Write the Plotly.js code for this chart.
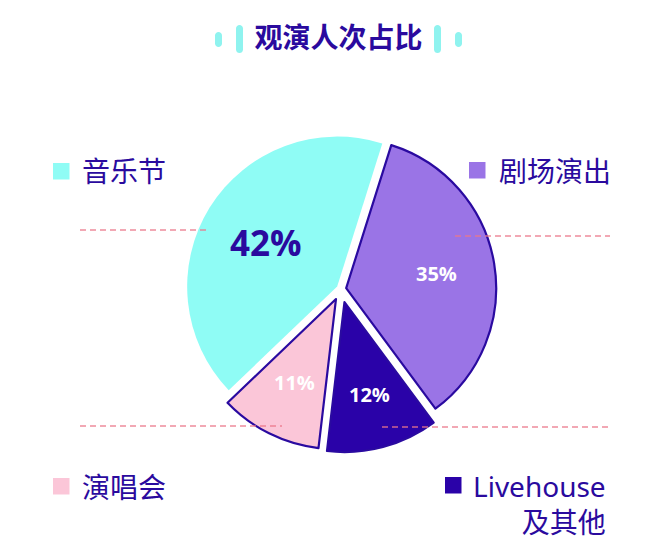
<!DOCTYPE html>
<html>
<head>
<meta charset="utf-8">
<script src="https://cdn.plot.ly/plotly-3.0.1.min.js"></script>
<style>
  html, body { margin: 0; padding: 0; background: #ffffff; }
  #chart { width: 656px; height: 554px; }
</style>
</head>
<body>
<div id="chart"></div>
<script>
// ---- data ----
const categories = ['剧场演出', 'Livehouse及其他', '演唱会', '音乐节'];
const shares = [35, 12, 11, 42];
const legendLabels = ['剧场演出', 'Livehouse<br>及其他', '演唱会', '音乐节'];
const chartTitle = '观演人次占比';

// ---- styles ----
const sliceColors = ['#9a74e6', '#2a02a8', '#fbc6d8', '#8ffcf5'];
const borderColors = ['#2a0aa0', '#2a0aa0', '#2a0aa0', 'rgba(0,0,0,0)'];
const borderWidths = [2.2, 2.2, 2.2, 0];
const pulls = [0.035, 0.09, 0.075, 0.03];
const labelRadius = [0.61, 0.64, 0.62, 0.56];
const labelColors = ['#ffffff', '#ffffff', '#ffffff', '#2a0a9e'];
const labelSizes = [20, 20, 20, 35];
const DARK = '#2a0a9e';
const ROTATION = 17.5;

const W = 656, H = 554;
const px = x => x / W;
const py = y => 1 - y / H;

// pie geometry (pixels)
const CX = 341, CY = 289, R = 150;
const maxPull = Math.max.apply(null, pulls);
const half = R * (1 + maxPull);

const pie = {
  type: 'pie',
  labels: categories,
  values: shares,
  sort: false,
  direction: 'clockwise',
  rotation: ROTATION,
  pull: pulls,
  textinfo: 'none',
  hoverinfo: 'none',
  showlegend: false,
  marker: { colors: sliceColors, line: { color: borderColors, width: borderWidths } },
  domain: { x: [px(CX - half), px(CX + half)], y: [py(CY + half), py(CY - half)] }
};

// percentage labels along each slice's mid angle
const annotations = [];
const total = shares.reduce((a, b) => a + b, 0);
let cum = 0;
shares.forEach((v, i) => {
  const mid = (ROTATION + (cum + v / 2) / total * 360) * Math.PI / 180;
  cum += v;
  const dist = (pulls[i] + labelRadius[i]) * R;
  const x = CX + dist * Math.sin(mid);
  const y = CY - dist * Math.cos(mid);
  annotations.push({
    xref: 'paper', yref: 'paper', x: px(x), y: py(y),
    xanchor: 'center', yanchor: 'middle', showarrow: false,
    text: '<b>' + v + '%</b>',
    font: { family: 'Open Sans, Noto Sans, sans-serif', size: labelSizes[i], color: labelColors[i] }
  });
});

// legend entries at the corners
const legendPos = [
  { sq: [469, 162], tx: 497, ty: 171, anchor: 'left' },
  { sq: [445, 477], tx: 608, ty: 504, anchor: 'right' },
  { sq: [53, 478], tx: 80, ty: 487, anchor: 'left' },
  { sq: [53, 163], tx: 80, ty: 171, anchor: 'left' }
];
const SQ = 16.5;
const shapes = [];
legendPos.forEach((p, i) => {
  shapes.push({
    type: 'rect', xref: 'paper', yref: 'paper',
    x0: px(p.sq[0]), x1: px(p.sq[0] + SQ), y0: py(p.sq[1] + SQ), y1: py(p.sq[1]),
    fillcolor: sliceColors[i], line: { width: 0 }
  });
  annotations.push({
    xref: 'paper', yref: 'paper', x: px(p.tx), y: py(p.ty),
    xanchor: p.anchor, yanchor: 'middle', align: 'right', showarrow: false,
    text: legendLabels[i],
    font: { family: 'Noto Sans, Noto Sans CJK SC, sans-serif', size: 28, color: DARK }
  });
});

// dashed guide lines
const dashLines = [[80, 206, 230], [455, 610, 236], [80, 282, 426], [382, 610, 427]];
dashLines.forEach(l => {
  shapes.push({
    type: 'line', xref: 'paper', yref: 'paper',
    x0: px(l[0]), x1: px(l[1]), y0: py(l[2]), y1: py(l[2]),
    line: { color: 'rgba(234,120,138,0.85)', width: 1.5, dash: '6px,4px' }
  });
});

// title decoration pills
function pill(x0, y0, x1, y1) {
  const r = (x1 - x0) / 2;
  const k = 4 / 3 * r;
  const P = (x, y) => px(x).toFixed(5) + ',' + py(y).toFixed(5);
  return 'M' + P(x0, y0 + r) +
    ' C' + P(x0, y0 + r - k) + ' ' + P(x1, y0 + r - k) + ' ' + P(x1, y0 + r) +
    ' L' + P(x1, y1 - r) +
    ' C' + P(x1, y1 - r + k) + ' ' + P(x0, y1 - r + k) + ' ' + P(x0, y1 - r) + ' Z';
}
[[215, 32, 222, 47], [236, 25, 243, 53], [434, 25, 441, 53], [455, 32, 462, 47]].forEach(b => {
  shapes.push({
    type: 'path', xref: 'paper', yref: 'paper', path: pill(b[0], b[1], b[2], b[3]),
    fillcolor: '#8ff3ef', line: { width: 0 }
  });
});

const layout = {
  width: W, height: H,
  margin: { l: 0, r: 0, t: 0, b: 0 },
  paper_bgcolor: '#ffffff',
  plot_bgcolor: '#ffffff',
  title: {
    text: '<b>' + chartTitle + '</b>',
    x: 338.5 / W, xanchor: 'center', xref: 'container',
    y: 1 - 38 / H, yanchor: 'middle', yref: 'container',
    font: { family: 'Noto Sans CJK SC, sans-serif', size: 28, color: DARK }
  },
  annotations: annotations,
  shapes: shapes
};

Plotly.newPlot('chart', [pie], layout, { displayModeBar: false, staticPlot: true });
</script>
</body>
</html>
